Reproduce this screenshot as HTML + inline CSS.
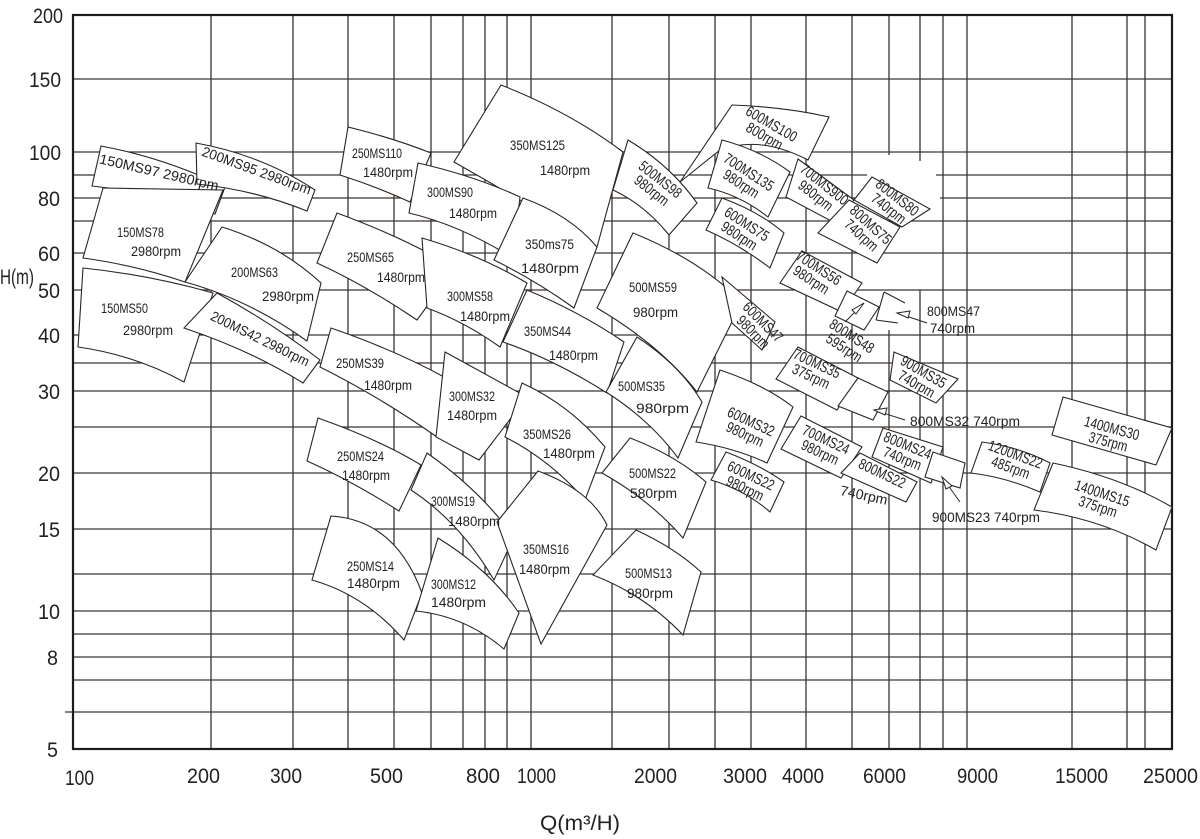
<!DOCTYPE html>
<html><head><meta charset="utf-8"><style>
html,body{margin:0;padding:0;background:#fff;}
svg{display:block;}
text{font-family:"Liberation Sans",sans-serif;fill:#222;}
.g line{stroke:#3a3430;stroke-width:1.3;}
.s{fill:#fff;stroke:#2a2522;stroke-width:1.1;}
.ax{font-size:21px;}
.l{font-size:14px;}
.r{font-size:15px;}
</style></head><body>
<svg width="1200" height="839" viewBox="0 0 1200 839" xmlns="http://www.w3.org/2000/svg">
<g class="g">
<line x1="211" y1="15" x2="211" y2="749"/><line x1="293" y1="15" x2="293" y2="749"/>
<line x1="348" y1="15" x2="348" y2="749"/><line x1="394" y1="15" x2="394" y2="749"/>
<line x1="431" y1="15" x2="431" y2="749"/><line x1="463" y1="15" x2="463" y2="749"/>
<line x1="485" y1="15" x2="485" y2="749"/><line x1="507" y1="15" x2="507" y2="749"/>
<line x1="531" y1="15" x2="531" y2="749"/><line x1="612" y1="15" x2="612" y2="749"/>
<line x1="669" y1="15" x2="669" y2="749"/><line x1="715" y1="15" x2="715" y2="749"/>
<line x1="751" y1="15" x2="751" y2="749"/><line x1="806" y1="15" x2="806" y2="749"/>
<line x1="852" y1="15" x2="852" y2="749"/><line x1="889" y1="15" x2="889" y2="155"/><line x1="889" y1="330" x2="889" y2="749"/>
<line x1="920" y1="15" x2="920" y2="161"/><line x1="920" y1="290" x2="920" y2="749"/>
<line x1="943" y1="15" x2="943" y2="749"/><line x1="967" y1="15" x2="967" y2="749"/>
<line x1="1072" y1="15" x2="1072" y2="749"/><line x1="1127" y1="15" x2="1127" y2="749"/>
<line x1="1145" y1="15" x2="1145" y2="749"/>
<line x1="73" y1="79" x2="1172" y2="79"/><line x1="73" y1="152" x2="1172" y2="152"/>
<line x1="73" y1="175" x2="867" y2="175"/><line x1="936" y1="175" x2="1172" y2="175"/>
<line x1="73" y1="198" x2="867" y2="198"/><line x1="940" y1="198" x2="1172" y2="198"/>
<line x1="73" y1="221" x2="1172" y2="221"/><line x1="73" y1="253" x2="1172" y2="253"/>
<line x1="73" y1="290" x2="1172" y2="290"/><line x1="73" y1="335" x2="1172" y2="335"/>
<line x1="73" y1="363" x2="1172" y2="363"/><line x1="73" y1="391" x2="1172" y2="391"/>
<line x1="73" y1="427" x2="1172" y2="427"/><line x1="73" y1="473" x2="1172" y2="473"/>
<line x1="73" y1="529" x2="1172" y2="529"/><line x1="73" y1="574" x2="1172" y2="574"/>
<line x1="73" y1="611" x2="1172" y2="611"/><line x1="73" y1="634" x2="1172" y2="634"/>
<line x1="73" y1="657" x2="1172" y2="657"/><line x1="73" y1="680" x2="1172" y2="680"/>
<line x1="65" y1="712" x2="1172" y2="712"/>
</g>
<rect x="73" y="15" width="1099" height="734" fill="none" stroke="#1e1a18" stroke-width="2.2"/>

<g class="s">
<path d="M101,146 Q165,158 225,187 L215,214 Q150,192 92,186 Z"/>
<path d="M196,143 Q262,155 315,190 L307,211 Q255,190 197,184 Z"/>
<path d="M103,188 L223,190 L185,282 Q135,265 83,258 Z"/>
<path d="M83,268 Q150,275 213,293 L184,382 Q135,355 78,347 Z"/>
<path d="M222,227 Q280,245 321,283 L307,341 Q250,300 185,282 Z"/>
<path d="M217,293 Q275,325 320,360 L303,383 Q250,350 184,328 Z"/>
<path d="M348,127 Q393,138 431,153 L410,202 Q375,186 340,175 Z"/>
<path d="M501,85 Q570,112 623,152 L597,247 Q530,205 454,162 Z"/>
<path d="M418,163 Q475,176 520,197 L513,258 Q460,225 409,213 Z"/>
<path d="M523,198 Q570,215 597,247 L574,308 Q535,280 494,260 Z"/>
<path d="M337,213 Q405,238 455,268 L417,320 Q365,285 317,263 Z"/>
<path d="M422,238 Q480,255 527,283 L500,347 Q465,322 427,308 Z"/>
<path d="M527,290 Q580,312 624,342 L607,393 Q555,360 503,342 Z"/>
<path d="M331,328 Q395,350 446,378 L437,437 Q380,397 320,367 Z"/>
<path d="M445,352 L527,397 L479,460 L436,437 Z"/>
<path d="M522,383 Q570,405 605,447 L585,500 Q550,460 505,437 Z"/>
<path d="M318,418 Q380,440 421,465 L399,511 Q350,480 307,461 Z"/>
<path d="M427,453 Q480,490 514,537 L494,580 Q460,522 411,490 Z"/>
<path d="M331,516 Q395,520 422,593 L404,640 Q365,595 312,580 Z"/>
<path d="M438,538 Q490,570 519,613 L504,649 Q465,616 416,611 Z"/>
<path d="M538,471 Q590,490 607,525 L541,644 L497,522 Z"/>
<path d="M628,140 Q670,165 697,203 L669,235 Q645,205 613,190 Z"/>
<path d="M633,233 Q700,260 742,302 L697,392 Q660,345 597,308 Z"/>
<path d="M637,337 Q680,365 702,402 L678,458 Q650,420 606,392 Z"/>
<path d="M630,438 Q675,455 706,482 L683,538 Q650,500 602,473 Z"/>
<path d="M636,530 Q675,548 701,572 L683,635 Q645,595 593,575 Z"/>
<path d="M732,105 Q785,107 829,117 L808,160 Q760,135 720,150 L680,182 Z"/>
<path d="M722,140 Q760,150 790,172 L768,217 Q740,195 708,188 Z"/>
<path d="M798,159 L854,200 L833,222 L786,197 Z"/>
<path d="M872,177 L930,209 L902,227 L854,200 Z"/>
<path d="M849,200 L900,227 L877,263 L818,233 Z"/>
<path d="M722,198 Q760,212 784,233 L770,268 Q740,245 706,230 Z"/>
<path d="M722,277 L775,322 L762,350 L732,323 Z"/>
<path d="M802,251 L862,283 L842,312 L780,283 Z"/>
<path d="M847,291 L879,307 L864,330 L835,316 Z"/>
<path d="M884,292 L905,303 M898,323 L876,320" fill="none"/>
<path d="M884,292 L876,320" fill="none"/>
<path d="M894,352 L958,379 L936,403 L890,380 Z"/>
<path d="M798,347 L858,378 L837,410 L776,379 Z"/>
<path d="M858,378 L888,392 L873,420 L838,406 Z"/>
<path d="M720,370 Q765,385 793,407 L767,463 Q735,448 696,442 Z"/>
<path d="M726,452 Q760,465 784,482 L770,512 Q745,490 711,480 Z"/>
<path d="M801,416 L862,447 L841,478 L781,449 Z"/>
<path d="M860,453 L917,482 L906,502 L841,473 Z"/>
<path d="M883,428 L943,447 L931,483 L872,457 Z"/>
<path d="M933,452 L965,463 L960,488 L925,477 Z"/>
<path d="M982,442 Q1020,447 1050,463 L1040,492 Q1005,477 971,473 Z"/>
<path d="M1063,397 L1172,428 L1156,465 L1052,435 Z"/>
<path d="M1053,463 Q1120,477 1172,507 L1156,550 Q1100,518 1034,510 Z"/>
</g>
<g stroke="#2a2522" stroke-width="1" fill="#fff">
<line x1="845" y1="322" x2="864" y2="303"/><path d="M864,303 L852,310 L856,314 Z"/>
<line x1="927" y1="323" x2="897" y2="313"/><path d="M897,313 L910,311 L908,318 Z"/>
<line x1="905" y1="420" x2="874" y2="410"/><path d="M874,410 L887,408 L885,415 Z"/>
<line x1="960" y1="502" x2="942" y2="477"/><path d="M942,477 L952,486 L946,489 Z"/>
</g>

<g class="ax">
<text x="33" y="23" textLength="30" lengthAdjust="spacingAndGlyphs">200</text>
<text x="29" y="87" textLength="32" lengthAdjust="spacingAndGlyphs">150</text>
<text x="29" y="160" textLength="32" lengthAdjust="spacingAndGlyphs">100</text>
<text x="38" y="206" textLength="22" lengthAdjust="spacingAndGlyphs">80</text>
<text x="38" y="261" textLength="22" lengthAdjust="spacingAndGlyphs">60</text>
<text x="38" y="298" textLength="22" lengthAdjust="spacingAndGlyphs">50</text>
<text x="38" y="343" textLength="22" lengthAdjust="spacingAndGlyphs">40</text>
<text x="38" y="399" textLength="22" lengthAdjust="spacingAndGlyphs">30</text>
<text x="38" y="481" textLength="22" lengthAdjust="spacingAndGlyphs">20</text>
<text x="38" y="537" textLength="22" lengthAdjust="spacingAndGlyphs">15</text>
<text x="38" y="619" textLength="22" lengthAdjust="spacingAndGlyphs">10</text>
<text x="47" y="665" textLength="11" lengthAdjust="spacingAndGlyphs">8</text>
<text x="47" y="757" textLength="11" lengthAdjust="spacingAndGlyphs">5</text>
<text x="0" y="284" textLength="34" lengthAdjust="spacingAndGlyphs">H(m)</text>
<text x="65" y="785" textLength="29" lengthAdjust="spacingAndGlyphs">100</text>
<text x="187" y="783" textLength="33" lengthAdjust="spacingAndGlyphs">200</text>
<text x="270" y="783" textLength="32" lengthAdjust="spacingAndGlyphs">300</text>
<text x="370" y="783" textLength="33" lengthAdjust="spacingAndGlyphs">500</text>
<text x="466" y="783" textLength="34" lengthAdjust="spacingAndGlyphs">800</text>
<text x="517" y="783" textLength="39" lengthAdjust="spacingAndGlyphs">1000</text>
<text x="634" y="783" textLength="43" lengthAdjust="spacingAndGlyphs">2000</text>
<text x="723" y="783" textLength="44" lengthAdjust="spacingAndGlyphs">3000</text>
<text x="782" y="783" textLength="42" lengthAdjust="spacingAndGlyphs">4000</text>
<text x="863" y="783" textLength="43" lengthAdjust="spacingAndGlyphs">6000</text>
<text x="957" y="783" textLength="41" lengthAdjust="spacingAndGlyphs">9000</text>
<text x="1055" y="783" textLength="53" lengthAdjust="spacingAndGlyphs">15000</text>
<text x="1143" y="783" textLength="55" lengthAdjust="spacingAndGlyphs">25000</text>
<text x="540" y="830" textLength="80" lengthAdjust="spacingAndGlyphs">Q(m³/H)</text>
</g>

<g class="l">
<text x="352" y="158" textLength="50" lengthAdjust="spacingAndGlyphs">250MS110</text>
<text x="363" y="177" textLength="50" lengthAdjust="spacingAndGlyphs">1480rpm</text>
<text x="510" y="150" textLength="55" lengthAdjust="spacingAndGlyphs">350MS125</text>
<text x="540" y="175" textLength="50" lengthAdjust="spacingAndGlyphs">1480rpm</text>
<text x="427" y="197" textLength="46" lengthAdjust="spacingAndGlyphs">300MS90</text>
<text x="449" y="218" textLength="48" lengthAdjust="spacingAndGlyphs">1480rpm</text>
<text x="117" y="237" textLength="47" lengthAdjust="spacingAndGlyphs">150MS78</text>
<text x="131" y="256" textLength="50" lengthAdjust="spacingAndGlyphs">2980rpm</text>
<text x="231" y="277" textLength="47" lengthAdjust="spacingAndGlyphs">200MS63</text>
<text x="262" y="301" textLength="52" lengthAdjust="spacingAndGlyphs">2980rpm</text>
<text x="347" y="262" textLength="47" lengthAdjust="spacingAndGlyphs">250MS65</text>
<text x="377" y="282" textLength="48" lengthAdjust="spacingAndGlyphs">1480rpm</text>
<text x="525" y="249" textLength="49" lengthAdjust="spacingAndGlyphs">350ms75</text>
<text x="521" y="273" textLength="58" lengthAdjust="spacingAndGlyphs">1480rpm</text>
<text x="629" y="292" textLength="48" lengthAdjust="spacingAndGlyphs">500MS59</text>
<text x="633" y="317" textLength="45" lengthAdjust="spacingAndGlyphs">980rpm</text>
<text x="447" y="301" textLength="46" lengthAdjust="spacingAndGlyphs">300MS58</text>
<text x="460" y="321" textLength="50" lengthAdjust="spacingAndGlyphs">1480rpm</text>
<text x="101" y="313" textLength="47" lengthAdjust="spacingAndGlyphs">150MS50</text>
<text x="123" y="335" textLength="50" lengthAdjust="spacingAndGlyphs">2980rpm</text>
<text x="524" y="336" textLength="47" lengthAdjust="spacingAndGlyphs">350MS44</text>
<text x="549" y="360" textLength="49" lengthAdjust="spacingAndGlyphs">1480rpm</text>
<text x="336" y="368" textLength="48" lengthAdjust="spacingAndGlyphs">250MS39</text>
<text x="364" y="390" textLength="48" lengthAdjust="spacingAndGlyphs">1480rpm</text>
<text x="449" y="401" textLength="46" lengthAdjust="spacingAndGlyphs">300MS32</text>
<text x="447" y="420" textLength="50" lengthAdjust="spacingAndGlyphs">1480rpm</text>
<text x="618" y="391" textLength="47" lengthAdjust="spacingAndGlyphs">500MS35</text>
<text x="636" y="413" textLength="53" lengthAdjust="spacingAndGlyphs">980rpm</text>
<text x="523" y="439" textLength="48" lengthAdjust="spacingAndGlyphs">350MS26</text>
<text x="543" y="458" textLength="52" lengthAdjust="spacingAndGlyphs">1480rpm</text>
<text x="337" y="461" textLength="47" lengthAdjust="spacingAndGlyphs">250MS24</text>
<text x="342" y="480" textLength="48" lengthAdjust="spacingAndGlyphs">1480rpm</text>
<text x="629" y="478" textLength="47" lengthAdjust="spacingAndGlyphs">500MS22</text>
<text x="630" y="498" textLength="47" lengthAdjust="spacingAndGlyphs">580rpm</text>
<text x="431" y="506" textLength="44" lengthAdjust="spacingAndGlyphs">300MS19</text>
<text x="448" y="526" textLength="52" lengthAdjust="spacingAndGlyphs">1480rpm</text>
<text x="523" y="554" textLength="46" lengthAdjust="spacingAndGlyphs">350MS16</text>
<text x="519" y="574" textLength="51" lengthAdjust="spacingAndGlyphs">1480rpm</text>
<text x="347" y="571" textLength="47" lengthAdjust="spacingAndGlyphs">250MS14</text>
<text x="347" y="588" textLength="53" lengthAdjust="spacingAndGlyphs">1480rpm</text>
<text x="431" y="589" textLength="45" lengthAdjust="spacingAndGlyphs">300MS12</text>
<text x="431" y="607" textLength="55" lengthAdjust="spacingAndGlyphs">1480rpm</text>
<text x="625" y="578" textLength="47" lengthAdjust="spacingAndGlyphs">500MS13</text>
<text x="627" y="598" textLength="46" lengthAdjust="spacingAndGlyphs">980rpm</text>
<text x="927" y="316" textLength="53" lengthAdjust="spacingAndGlyphs">800MS47</text>
<text x="930" y="333" textLength="45" lengthAdjust="spacingAndGlyphs">740rpm</text>
<text x="910" y="426" textLength="110" lengthAdjust="spacingAndGlyphs">800MS32 740rpm</text>
<text x="932" y="522" textLength="108" lengthAdjust="spacingAndGlyphs">900MS23 740rpm</text>
<text x="840" y="500" textLength="48" lengthAdjust="spacingAndGlyphs" transform="rotate(12 864 495)">740rpm</text>
</g>

<g class="l" text-anchor="middle">
<text transform="translate(158,177) rotate(13)" textLength="122" lengthAdjust="spacingAndGlyphs">150MS97 2980rpm</text>
<text transform="translate(255,175) rotate(20)" textLength="115" lengthAdjust="spacingAndGlyphs">200MS95 2980rpm</text>
<text transform="translate(258,343) rotate(26)" textLength="108" lengthAdjust="spacingAndGlyphs">200MS42 2980rpm</text>
</g>
<g class="r" text-anchor="middle">
<g transform="translate(768,130) rotate(30) scale(0.78,1)"><text y="-2">600MS100</text><text y="12">800rpm</text></g>
<g transform="translate(656,185) rotate(38) scale(0.78,1)"><text y="-2">500MS98</text><text y="12">980rpm</text></g>
<g transform="translate(745,178) rotate(33) scale(0.78,1)"><text y="-2">700MS135</text><text y="12">980rpm</text></g>
<g transform="translate(820,190) rotate(38) scale(0.78,1)"><text y="-2">700MS900</text><text y="12">980rpm</text></g>
<g transform="translate(893,203) rotate(38) scale(0.78,1)"><text y="-2">800MS80</text><text y="12">740rpm</text></g>
<g transform="translate(866,230) rotate(42) scale(0.78,1)"><text y="-2">800MS75</text><text y="12">740rpm</text></g>
<g transform="translate(743,230) rotate(33) scale(0.78,1)"><text y="-2">600MS75</text><text y="12">980rpm</text></g>
<g transform="translate(815,274) rotate(33) scale(0.78,1)"><text y="-2">700MS56</text><text y="12">980rpm</text></g>
<g transform="translate(758,327) rotate(45) scale(0.78,1)"><text y="-2">600MS47</text><text y="12">980rpm</text></g>
<g transform="translate(848,342) rotate(33) scale(0.78,1)"><text y="-2">800MS48</text><text y="12">595rpm</text></g>
<g transform="translate(814,370) rotate(25) scale(0.78,1)"><text y="-2">700MS35</text><text y="12">375rpm</text></g>
<g transform="translate(920,378) rotate(30) scale(0.78,1)"><text y="-2">900MS35</text><text y="12">740rpm</text></g>
<g transform="translate(748,428) rotate(25) scale(0.78,1)"><text y="-2">600MS32</text><text y="12">980rpm</text></g>
<g transform="translate(823,446) rotate(25) scale(0.78,1)"><text y="-2">700MS24</text><text y="12">980rpm</text></g>
<g transform="translate(905,452) rotate(22) scale(0.78,1)"><text y="-2">800MS24</text><text y="12">740rpm</text></g>
<g transform="translate(880,478) rotate(25) scale(0.78,1)"><text y="0">800MS22</text></g>
<g transform="translate(748,482) rotate(25) scale(0.78,1)"><text y="-2">600MS22</text><text y="12">980rpm</text></g>
<g transform="translate(1013,461) rotate(20) scale(0.78,1)"><text y="-2">1200MS22</text><text y="12">485rpm</text></g>
<g transform="translate(1110,435) rotate(15) scale(0.78,1)"><text y="-2">1400MS30</text><text y="12">375rpm</text></g>
<g transform="translate(1100,500) rotate(18) scale(0.78,1)"><text y="-2">1400MS15</text><text y="12">375rpm</text></g>
</g>
</svg>
</body></html>
